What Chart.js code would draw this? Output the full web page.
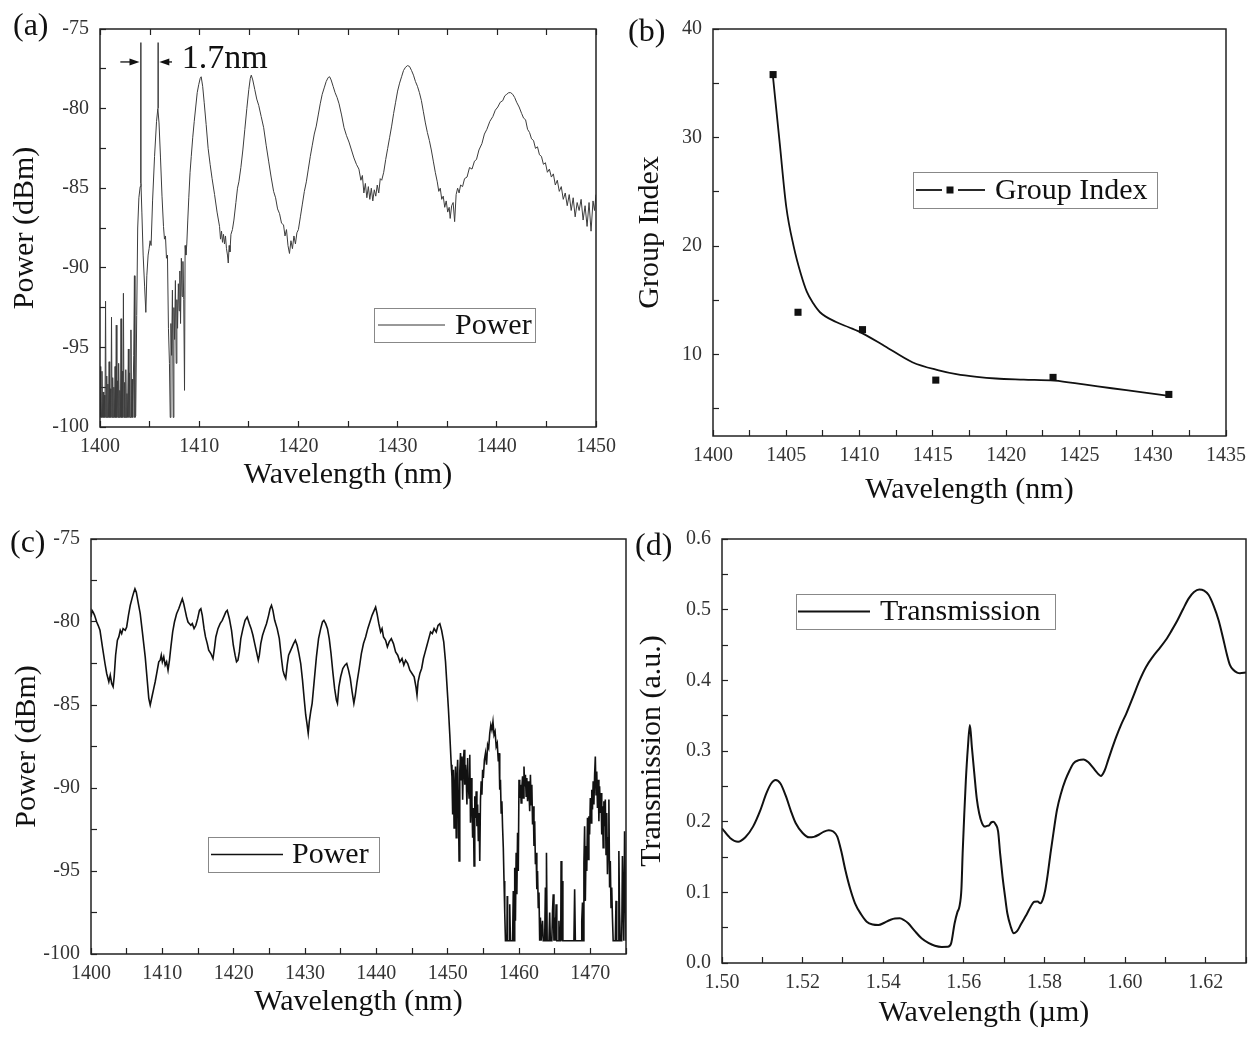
<!DOCTYPE html>
<html>
<head>
<meta charset="utf-8">
<title>Spectra</title>
<script src="https://cdn.jsdelivr.net/npm/chart.js@4.4.1/dist/chart.umd.min.js"></script>
<style>
  html, body { margin: 0; padding: 0; background: #fff; }
  #wrap { position: relative; width: 1260px; height: 1050px; overflow: hidden; }
  canvas { position: absolute; }
</style>
</head>
<body>
<div id="wrap">
  <canvas id="chartA" width="630" height="500" style="left:0;top:0"></canvas>
  <canvas id="chartB" width="640" height="510" style="left:620px;top:0"></canvas>
  <canvas id="chartC" width="640" height="540" style="left:0;top:510px"></canvas>
  <canvas id="chartD" width="630" height="540" style="left:630px;top:510px"></canvas>
</div>
<script>
// (a) measured transmission spectrum, [wavelength nm, power dBm]
const aSpectrum = [
  [1400.00,-96.2],[1400.05,-99.4],[1400.10,-97.0],[1400.15,-99.4],[1400.20,-96.5],[1400.26,-99.4],[1400.32,-97.8],[1400.38,-99.4],
  [1400.44,-98.0],[1400.50,-99.4],[1400.56,-92.1],[1400.62,-99.4],[1400.68,-96.8],[1400.74,-99.4],[1400.80,-97.3],[1400.86,-99.4],
  [1400.92,-95.9],[1400.98,-99.4],[1401.04,-97.6],[1401.10,-99.4],[1401.16,-93.1],[1401.22,-99.4],[1401.28,-96.9],[1401.34,-99.4],
  [1401.40,-97.5],[1401.46,-99.4],[1401.52,-96.2],[1401.58,-99.4],[1401.64,-93.6],[1401.70,-99.4],[1401.76,-97.1],[1401.82,-99.4],
  [1401.88,-96.0],[1401.94,-99.4],[1402.00,-97.7],[1402.06,-99.4],[1402.12,-93.2],[1402.18,-99.4],[1402.24,-96.5],[1402.30,-99.4],
  [1402.36,-91.6],[1402.42,-99.4],[1402.48,-97.2],[1402.54,-99.4],[1402.60,-96.4],[1402.66,-99.4],[1402.72,-97.9],[1402.78,-99.4],
  [1402.86,-95.1],[1402.92,-99.4],[1402.98,-96.6],[1403.04,-99.4],[1403.12,-93.9],[1403.18,-99.4],[1403.24,-97.0],[1403.30,-99.4],
  [1403.40,-95.5],[1403.47,-90.5],[1403.52,-99.4],[1403.60,-99.3],[1403.70,-93.0],[1403.80,-87.5],[1403.92,-85.6],[1404.05,-84.9],
  [1404.13,-84.7],[1404.22,-86.5],[1404.35,-89.2],[1404.50,-91.2],[1404.62,-92.8],[1404.72,-90.5],[1404.85,-89.2],[1404.95,-88.8],
  [1405.05,-88.3],[1405.15,-88.6],[1405.30,-85.8],[1405.50,-83.0],[1405.70,-80.8],[1405.83,-80.0],[1405.95,-80.9],[1406.10,-83.1],
  [1406.25,-85.5],[1406.40,-87.4],[1406.50,-88.2],[1406.60,-88.0],[1406.70,-89.4],[1406.80,-89.2],[1406.90,-93.8],[1407.00,-96.0],
  [1407.08,-99.4],[1407.15,-93.5],[1407.22,-95.5],[1407.30,-91.4],[1407.38,-99.4],[1407.45,-92.5],[1407.52,-94.5],[1407.60,-90.8],
  [1407.68,-96.0],[1407.75,-92.0],[1407.82,-93.8],[1407.90,-91.0],[1407.98,-92.7],[1408.05,-90.2],[1408.12,-93.5],[1408.20,-89.4],
  [1408.28,-91.8],[1408.36,-89.6],[1408.44,-92.0],[1408.52,-97.7],[1408.58,-88.6],[1408.66,-89.2],[1408.75,-88.5],[1408.85,-87.0],
  [1408.95,-85.6],[1409.08,-84.0],[1409.20,-83.0],[1409.35,-81.8],[1409.50,-80.8],[1409.65,-79.9],[1409.80,-79.0],[1409.95,-78.5],
  [1410.10,-78.1],[1410.20,-78.0],[1410.35,-78.6],[1410.50,-79.6],[1410.70,-81.0],[1410.90,-82.5],[1411.10,-83.5],[1411.30,-84.4],
  [1411.55,-85.4],[1411.80,-86.5],[1412.05,-87.4],[1412.15,-88.2],[1412.25,-87.7],[1412.35,-88.4],[1412.45,-87.9],[1412.55,-88.5],
  [1412.65,-88.0],[1412.75,-88.8],[1412.85,-89.2],[1412.93,-89.7],[1413.02,-88.6],[1413.10,-89.0],[1413.20,-87.9],[1413.35,-87.6],
  [1413.50,-87.0],[1413.70,-85.9],[1413.86,-85.0],[1414.00,-84.6],[1414.20,-83.7],[1414.40,-82.6],[1414.60,-81.3],[1414.80,-80.0],
  [1415.00,-78.8],[1415.15,-78.1],[1415.25,-77.9],[1415.40,-78.2],[1415.60,-78.8],[1415.80,-79.4],[1416.00,-79.8],[1416.25,-80.5],
  [1416.50,-81.2],[1416.75,-82.3],[1417.00,-83.3],[1417.25,-84.3],[1417.50,-85.2],[1417.70,-85.6],[1417.90,-86.3],[1418.10,-86.6],
  [1418.30,-87.2],[1418.50,-87.3],[1418.65,-88.0],[1418.80,-87.6],[1418.95,-88.6],[1419.10,-89.1],[1419.25,-88.3],[1419.40,-88.8],
  [1419.55,-88.0],[1419.70,-88.5],[1419.85,-87.8],[1420.00,-87.6],[1420.20,-86.8],[1420.40,-86.0],[1420.60,-85.2],[1420.80,-84.6],
  [1421.00,-83.8],[1421.20,-83.0],[1421.40,-82.3],[1421.60,-81.6],[1421.80,-81.1],[1422.00,-80.4],[1422.20,-79.7],[1422.40,-79.1],
  [1422.60,-78.7],[1422.80,-78.3],[1423.00,-78.05],[1423.15,-78.0],[1423.30,-78.2],[1423.50,-78.6],[1423.70,-79.0],[1423.90,-79.3],
  [1424.10,-79.7],[1424.35,-80.4],[1424.60,-81.2],[1424.85,-81.7],[1425.10,-82.1],[1425.35,-82.6],[1425.60,-83.1],[1425.85,-83.5],
  [1426.10,-83.8],[1426.30,-84.5],[1426.45,-84.2],[1426.60,-85.3],[1426.75,-84.7],[1426.90,-85.6],[1427.05,-84.9],[1427.20,-85.7],
  [1427.35,-85.0],[1427.50,-85.8],[1427.65,-85.1],[1427.80,-85.5],[1427.95,-84.8],[1428.10,-85.3],[1428.25,-84.4],[1428.40,-84.5],
  [1428.60,-84.0],[1428.80,-83.2],[1429.00,-82.5],[1429.20,-81.8],[1429.40,-81.1],[1429.60,-80.3],[1429.80,-79.6],[1430.00,-78.9],
  [1430.20,-78.4],[1430.40,-78.0],[1430.60,-77.6],[1430.80,-77.4],[1431.00,-77.3],[1431.20,-77.35],[1431.40,-77.6],[1431.60,-77.9],
  [1431.80,-78.3],[1432.00,-78.6],[1432.20,-79.0],[1432.40,-79.5],[1432.60,-80.2],[1432.80,-80.9],[1433.00,-81.5],[1433.20,-82.0],
  [1433.40,-82.6],[1433.60,-83.3],[1433.80,-84.0],[1434.00,-84.6],[1434.15,-85.2],[1434.30,-85.0],[1434.45,-85.7],[1434.60,-85.5],
  [1434.75,-86.2],[1434.90,-85.8],[1435.05,-86.5],[1435.20,-86.2],[1435.30,-86.9],[1435.45,-86.1],[1435.60,-85.9],[1435.75,-87.1],
  [1435.90,-85.4],[1436.05,-85.0],[1436.20,-85.3],[1436.35,-84.8],[1436.55,-84.9],[1436.75,-84.4],[1437.00,-84.3],[1437.25,-83.7],
  [1437.50,-83.8],[1437.75,-83.3],[1437.95,-83.2],[1438.20,-82.6],[1438.50,-82.2],[1438.75,-81.6],[1439.00,-81.3],[1439.30,-80.8],
  [1439.60,-80.5],[1439.85,-80.1],[1440.10,-79.9],[1440.35,-79.6],[1440.60,-79.5],[1440.80,-79.2],[1441.00,-79.1],[1441.20,-79.0],
  [1441.40,-79.0],[1441.60,-79.1],[1441.80,-79.3],[1442.00,-79.6],[1442.25,-79.9],[1442.50,-80.3],[1442.70,-80.6],[1442.90,-80.7],
  [1443.10,-81.3],[1443.30,-81.5],[1443.50,-81.9],[1443.70,-82.0],[1443.90,-82.5],[1444.10,-82.4],[1444.30,-82.9],[1444.50,-83.0],
  [1444.70,-83.5],[1444.90,-83.4],[1445.10,-84.0],[1445.30,-83.8],[1445.50,-84.3],[1445.70,-84.1],[1445.90,-84.8],[1446.10,-84.5],
  [1446.30,-85.2],[1446.50,-84.9],[1446.70,-85.7],[1446.90,-85.3],[1447.10,-86.1],[1447.30,-85.4],[1447.50,-86.4],[1447.70,-85.6],
  [1447.90,-86.8],[1448.10,-85.9],[1448.30,-86.4],[1448.50,-85.7],[1448.70,-87.0],[1448.90,-86.1],[1449.10,-87.4],[1449.30,-85.9],
  [1449.50,-87.7],[1449.70,-85.8],[1449.85,-86.4],[1450.00,-85.4]
];
// (a) the two resonance markers: [wavelength, peak power, top]
const aMarkLines = [[1404.12, -84.7, -75.85], [1405.86, -80.0, -75.85]];
const aGapArrowLeft = [1402.05, 1403.98];
const aGapArrowRight = [1407.26, 1405.98];
const aGapArrowY = -77.07;
const aGapText = "1.7nm";
const aGapTextPos = [1408.25, -76.9];

// (b) group index
const bWl = [1404.1, 1405.8, 1410.2, 1415.2, 1423.2, 1431.1];
const bIndex = [35.8, 13.9, 12.3, 7.65, 7.9, 6.33];
const bFitWl = [1404.1, 1404.55, 1405.0, 1405.5, 1406.0, 1406.4, 1406.85, 1407.3, 1408.4, 1409.3, 1410.2, 1411.7,
  1413.6, 1415.4, 1416.6, 1418.0, 1419.3, 1421.2, 1423.3, 1425.3, 1427.2, 1429.2, 1431.1];
const bFitIndex = [35.5, 29.5, 23.6, 20.0, 17.4, 15.8, 14.7, 13.9, 13.0, 12.5, 11.96, 10.8,
  9.3, 8.55, 8.2, 7.95, 7.8, 7.7, 7.6, 7.25, 6.9, 6.55, 6.2];

// (c) measured spectrum, [wavelength nm, power dBm]
const cSpectrum = [
  [1400.0,-79.7],[1400.15,-79.3],[1400.3,-79.4],[1400.5,-79.6],[1400.8,-80.0],[1401.0,-80.2],[1401.26,-80.5],[1401.6,-81.5],
  [1401.96,-82.5],[1402.2,-83.1],[1402.5,-83.6],[1402.7,-83.2],[1402.9,-83.7],[1403.1,-83.9],[1403.25,-83.3],[1403.45,-82.0],
  [1403.7,-81.1],[1403.9,-80.9],[1404.1,-80.5],[1404.3,-80.7],[1404.5,-80.4],[1404.8,-80.5],[1405.0,-80.3],[1405.25,-79.6],
  [1405.5,-79.0],[1405.8,-78.5],[1406.0,-78.2],[1406.16,-78.0],[1406.35,-78.2],[1406.6,-78.8],[1406.9,-79.5],[1407.2,-80.6],
  [1407.6,-82.1],[1407.9,-83.6],[1408.1,-84.6],[1408.3,-85.0],[1408.45,-84.7],[1408.6,-84.4],[1408.8,-84.0],[1409.0,-83.6],
  [1409.25,-83.0],[1409.5,-82.4],[1409.7,-82.3],[1409.85,-82.0],[1410.0,-82.4],[1410.2,-82.1],[1410.4,-82.6],[1410.6,-82.4],
  [1410.8,-82.9],[1411.0,-82.3],[1411.2,-81.5],[1411.45,-80.6],[1411.7,-80.0],[1412.0,-79.5],[1412.3,-79.2],[1412.55,-78.9],
  [1412.8,-78.6],[1413.0,-78.9],[1413.2,-79.3],[1413.4,-79.7],[1413.6,-80.0],[1413.8,-80.1],[1414.0,-80.2],[1414.2,-80.1],
  [1414.45,-80.4],[1414.7,-80.2],[1414.95,-79.8],[1415.2,-79.3],[1415.4,-79.2],[1415.6,-79.6],[1415.85,-80.4],[1416.05,-80.9],
  [1416.3,-81.3],[1416.5,-81.7],[1416.8,-81.9],[1417.1,-82.2],[1417.3,-81.6],[1417.5,-80.9],[1417.8,-80.4],[1418.1,-80.1],
  [1418.4,-79.9],[1418.7,-79.6],[1418.9,-79.4],[1419.1,-79.3],[1419.4,-79.8],[1419.7,-80.5],[1419.95,-81.4],[1420.2,-82.0],
  [1420.4,-82.4],[1420.6,-82.3],[1420.8,-81.8],[1421.0,-81.0],[1421.3,-80.4],[1421.6,-79.9],[1421.9,-79.7],[1422.2,-80.1],
  [1422.45,-80.4],[1422.7,-80.8],[1422.95,-81.3],[1423.2,-81.8],[1423.45,-82.3],[1423.6,-82.0],[1423.8,-81.3],[1424.05,-80.8],
  [1424.35,-80.4],[1424.6,-80.1],[1424.9,-79.6],[1425.1,-79.2],[1425.3,-79.0],[1425.5,-79.3],[1425.75,-79.9],[1426.1,-80.4],
  [1426.4,-81.0],[1426.7,-82.2],[1426.9,-82.9],[1427.1,-83.2],[1427.3,-83.4],[1427.5,-82.6],[1427.7,-82.0],[1427.9,-81.8],
  [1428.1,-81.6],[1428.4,-81.3],[1428.65,-81.1],[1428.9,-81.4],[1429.15,-81.9],[1429.4,-82.5],[1429.65,-83.5],[1429.9,-84.7],
  [1430.1,-85.6],[1430.3,-86.2],[1430.45,-86.7],[1430.6,-86.0],[1430.8,-85.4],[1431.0,-84.9],[1431.3,-83.5],[1431.6,-82.1],
  [1431.9,-81.0],[1432.2,-80.4],[1432.45,-80.0],[1432.65,-79.9],[1432.9,-80.1],[1433.15,-80.4],[1433.4,-81.0],[1433.65,-81.9],
  [1433.9,-83.0],[1434.15,-84.0],[1434.4,-84.7],[1434.55,-84.9],[1434.75,-83.9],[1435.0,-83.3],[1435.3,-82.8],[1435.6,-82.6],
  [1435.85,-82.5],[1436.1,-82.9],[1436.35,-83.4],[1436.6,-84.2],[1436.85,-84.9],[1437.05,-84.4],[1437.3,-83.6],[1437.6,-82.8],
  [1437.9,-81.9],[1438.2,-81.3],[1438.5,-80.9],[1438.8,-80.4],[1439.1,-80.0],[1439.4,-79.6],[1439.7,-79.3],[1439.9,-79.1],
  [1440.1,-79.5],[1440.35,-80.1],[1440.6,-80.6],[1440.8,-80.4],[1441.0,-80.9],[1441.3,-81.1],[1441.55,-81.5],[1441.8,-81.2],
  [1442.1,-81.0],[1442.4,-81.3],[1442.7,-81.8],[1443.0,-82.0],[1443.3,-82.4],[1443.6,-82.2],[1443.85,-82.6],[1444.1,-82.3],
  [1444.4,-82.5],[1444.7,-82.9],[1445.0,-83.1],[1445.3,-83.3],[1445.55,-83.9],[1445.7,-84.4],[1445.85,-83.6],[1446.1,-83.1],
  [1446.35,-82.8],[1446.6,-82.2],[1446.85,-81.8],[1447.1,-81.4],[1447.35,-81.0],[1447.6,-80.6],[1447.85,-80.7],[1448.1,-80.4],
  [1448.4,-80.6],[1448.65,-80.2],[1448.9,-80.1],[1449.15,-80.5],[1449.45,-81.2],[1449.7,-82.4],[1449.9,-83.8],[1450.1,-85.2],
  [1450.3,-86.8],[1450.5,-88.6],[1450.6,-89.3],[1450.7,-91.6],[1450.8,-88.9],[1450.9,-92.4],[1451.0,-90.2],[1451.1,-88.7],
  [1451.2,-93.0],[1451.3,-89.6],[1451.4,-88.3],[1451.5,-90.8],[1451.6,-94.4],[1451.7,-89.0],[1451.8,-87.9],[1451.9,-89.5],
  [1452.0,-88.1],[1452.1,-90.7],[1452.2,-88.5],[1452.3,-87.7],[1452.4,-89.8],[1452.5,-88.6],[1452.6,-89.3],[1452.7,-91.0],
  [1452.8,-88.2],[1452.9,-89.8],[1453.0,-90.6],[1453.1,-88.0],[1453.2,-92.1],[1453.3,-89.4],[1453.4,-90.8],[1453.5,-93.0],
  [1453.6,-91.2],[1453.7,-94.7],[1453.8,-90.5],[1453.9,-91.8],[1454.0,-90.2],[1454.1,-92.3],[1454.2,-91.0],[1454.3,-93.2],
  [1454.4,-91.5],[1454.5,-94.4],[1454.6,-90.7],[1454.7,-89.6],[1454.8,-90.4],[1454.9,-88.9],[1455.0,-89.4],[1455.15,-88.3],
  [1455.3,-87.9],[1455.45,-88.6],[1455.6,-87.4],[1455.75,-87.6],[1455.9,-86.7],[1456.05,-86.2],[1456.2,-86.5],[1456.35,-86.0],
  [1456.5,-86.8],[1456.65,-86.6],[1456.8,-87.5],[1456.95,-87.3],[1457.1,-88.4],[1457.2,-87.9],[1457.3,-90.1],[1457.4,-89.5],
  [1457.5,-91.5],[1457.6,-90.8],[1457.7,-92.4],[1457.8,-93.6],[1457.9,-95.6],[1458.0,-97.5],[1458.1,-99.2],[1458.3,-99.2],
  [1458.35,-96.5],[1458.4,-99.2],[1458.6,-99.2],[1458.7,-97.0],[1458.8,-99.2],[1459.1,-99.2],[1459.2,-96.2],[1459.3,-99.2],
  [1459.4,-94.8],[1459.5,-98.0],[1459.6,-93.9],[1459.7,-96.4],[1459.8,-92.7],[1459.9,-95.0],[1460.0,-89.5],[1460.1,-90.6],
  [1460.2,-89.8],[1460.3,-90.9],[1460.4,-90.0],[1460.5,-89.3],[1460.6,-90.6],[1460.7,-88.7],[1460.8,-89.9],[1460.9,-89.2],
  [1461.0,-90.5],[1461.1,-89.4],[1461.2,-90.8],[1461.3,-89.6],[1461.4,-90.2],[1461.5,-91.4],[1461.6,-89.2],[1461.7,-91.0],
  [1461.8,-89.8],[1461.9,-92.2],[1462.0,-91.1],[1462.1,-93.5],[1462.2,-92.0],[1462.3,-94.6],[1462.4,-93.9],[1462.5,-96.1],
  [1462.6,-95.0],[1462.7,-97.2],[1462.8,-96.3],[1462.9,-99.2],[1463.0,-97.8],[1463.1,-99.2],[1463.3,-98.0],[1463.4,-99.2],
  [1463.6,-99.2],[1463.7,-96.0],[1463.8,-99.2],[1463.85,-93.9],[1463.95,-99.2],[1464.2,-99.2],[1464.3,-97.5],[1464.4,-99.2],
  [1464.6,-99.2],[1464.7,-97.4],[1464.8,-96.4],[1464.9,-99.2],[1465.0,-97.8],[1465.1,-99.2],[1465.2,-97.0],[1465.3,-99.2],
  [1465.5,-99.2],[1465.6,-98.0],[1465.7,-99.2],[1465.85,-99.2],[1465.9,-94.4],[1466.0,-99.2],[1466.05,-95.6],[1466.15,-99.2],
  [1467.7,-99.2],[1467.8,-96.1],[1467.9,-99.2],[1468.7,-99.2],[1468.8,-98.0],[1468.9,-96.9],[1469.0,-99.2],[1469.1,-94.5],
  [1469.2,-92.3],[1469.3,-96.8],[1469.4,-93.5],[1469.5,-95.0],[1469.6,-91.8],[1469.7,-94.3],[1469.8,-91.7],[1469.9,-92.8],
  [1470.0,-90.6],[1470.1,-92.1],[1470.2,-90.1],[1470.3,-91.3],[1470.4,-89.6],[1470.5,-91.0],[1470.6,-89.2],[1470.7,-88.1],
  [1470.8,-90.4],[1470.9,-89.0],[1471.0,-91.2],[1471.1,-89.5],[1471.2,-92.0],[1471.3,-89.9],[1471.4,-91.5],[1471.5,-90.3],
  [1471.6,-92.8],[1471.7,-91.1],[1471.8,-93.6],[1471.9,-90.8],[1472.0,-92.3],[1472.1,-90.7],[1472.2,-94.0],[1472.3,-91.5],
  [1472.4,-95.2],[1472.5,-93.0],[1472.6,-90.7],[1472.7,-96.0],[1472.8,-94.4],[1472.9,-97.2],[1473.0,-96.0],[1473.1,-97.8],
  [1473.2,-99.2],[1473.5,-99.2],[1473.6,-96.8],[1473.7,-99.2],[1473.9,-99.2],[1474.0,-93.8],[1474.1,-97.5],[1474.2,-99.2],
  [1474.4,-99.2],[1474.5,-94.1],[1474.6,-96.9],[1474.7,-99.2],[1474.8,-92.6],[1474.9,-95.5],[1475.0,-99.2]
];

// (d) simulated transmission, [wavelength um, transmission]
const dTransmission = [
  [1.5000,0.1906],[1.5020,0.1770],[1.5040,0.1717],[1.5058,0.1780],[1.5077,0.1930],[1.5095,0.2160],[1.5110,0.2400],[1.5122,0.2540],
  [1.5133,0.2590],[1.5145,0.2540],[1.5159,0.2353],[1.5171,0.2150],[1.5183,0.1977],[1.5200,0.1840],[1.5216,0.1778],[1.5228,0.1785],
  [1.5240,0.1815],[1.5253,0.1860],[1.5265,0.1880],[1.5276,0.1860],[1.5286,0.1790],[1.5296,0.1580],[1.5306,0.1316],[1.5318,0.1050],
  [1.5330,0.0845],[1.5345,0.0690],[1.5359,0.0585],[1.5374,0.0545],[1.5388,0.0538],[1.5403,0.0570],[1.5417,0.0609],[1.5429,0.0630],
  [1.5441,0.0632],[1.5452,0.0605],[1.5462,0.0562],[1.5478,0.0455],[1.5495,0.0350],[1.5512,0.0285],[1.5528,0.0245],[1.5545,0.0228],
  [1.5560,0.0230],[1.5568,0.0270],[1.5577,0.0560],[1.5584,0.0720],[1.5589,0.0797],[1.5594,0.1050],[1.5597,0.1550],[1.5601,0.2100],
  [1.5605,0.2590],[1.5610,0.3050],[1.5615,0.3368],[1.5620,0.3050],[1.5626,0.2680],[1.5632,0.2330],[1.5638,0.2120],[1.5645,0.1980],
  [1.5652,0.1930],[1.5658,0.1940],[1.5663,0.1950],[1.5668,0.1990],[1.5673,0.2000],[1.5679,0.1960],[1.5685,0.1863],[1.5690,0.1550],
  [1.5696,0.1220],[1.5702,0.0950],[1.5708,0.0700],[1.5716,0.0520],[1.5724,0.0420],[1.5732,0.0450],[1.5741,0.0540],[1.5750,0.0630],
  [1.5757,0.0700],[1.5766,0.0800],[1.5775,0.0868],[1.5783,0.0870],[1.5790,0.0845],[1.5796,0.0900],[1.5802,0.1033],[1.5808,0.1250],
  [1.5815,0.1550],[1.5823,0.1870],[1.5831,0.2165],[1.5841,0.2400],[1.5852,0.2590],[1.5862,0.2720],[1.5872,0.2826],[1.5885,0.2870],
  [1.5897,0.2880],[1.5909,0.2840],[1.5921,0.2760],[1.5931,0.2690],[1.5940,0.2646],[1.5949,0.2720],[1.5958,0.2870],[1.5968,0.3040],
  [1.5978,0.3200],[1.5990,0.3370],[1.6003,0.3530],[1.6020,0.3770],[1.6036,0.4000],[1.6052,0.4190],[1.6069,0.4335],[1.6085,0.4450],
  [1.6101,0.4570],[1.6115,0.4700],[1.6130,0.4850],[1.6144,0.5010],[1.6158,0.5160],[1.6171,0.5250],[1.6184,0.5287],[1.6196,0.5270],
  [1.6207,0.5210],[1.6220,0.5050],[1.6232,0.4850],[1.6243,0.4600],[1.6252,0.4380],[1.6260,0.4220],[1.6269,0.4146],[1.6278,0.4110],
  [1.6285,0.4100],[1.6300,0.4110]
];

// tick values (major get labels, minor are bare marks)
const aXMajor = [1400, 1410, 1420, 1430, 1440, 1450];
const aXMinor = [1405, 1415, 1425, 1435, 1445];
const aYMajor = [-100, -95, -90, -85, -80, -75];
const aYMinor = [-97.5, -92.5, -87.5, -82.5, -77.5];
const bXMajor = [1400, 1405, 1410, 1415, 1420, 1425, 1430, 1435];
const bXMinor = [1402.5, 1407.5, 1412.5, 1417.5, 1422.5, 1427.5, 1432.5];
const bYMajor = [10, 20, 30, 40];
const bYMinor = [5, 15, 25, 35];
const cXMajor = [1400, 1410, 1420, 1430, 1440, 1450, 1460, 1470];
const cXMinor = [1405, 1415, 1425, 1435, 1445, 1455, 1465, 1475];
const cYMajor = [-100, -95, -90, -85, -80, -75];
const cYMinor = [-97.5, -92.5, -87.5, -82.5, -77.5];
const dXMajor = [1.50, 1.52, 1.54, 1.56, 1.58, 1.60, 1.62];
const dXMinor = [1.51, 1.53, 1.55, 1.57, 1.59, 1.61, 1.63];
const dYMajor = [0.0, 0.1, 0.2, 0.3, 0.4, 0.5, 0.6];
const dYMinor = [0.05, 0.15, 0.25, 0.35, 0.45, 0.55];

const SERIF = "'Liberation Serif', 'Times New Roman', serif";
Chart.defaults.font.family = SERIF;
Chart.defaults.color = "#222";

const toXY = (pairs) => pairs.map((p) => ({ x: p[0], y: p[1] }));

function tickAxis(major, minor, fmt, fitSize, title, titlePad, extra) {
  const majorSet = new Set(major);
  const horizontal = extra.position === "bottom";
  return Object.assign({
    type: "linear",
    afterBuildTicks: (scale) => {
      scale.ticks = major.concat(minor).sort((p, q) => p - q).map((v) => ({ value: v }));
    },
    afterFit: (scale) => {
      if (horizontal) scale.height = fitSize; else scale.width = fitSize;
    },
    ticks: {
      callback: (v) => (majorSet.has(v) ? fmt(v) : ""),
      font: { size: 20 },
      color: "#333",
      autoSkip: false,
      maxRotation: 0,
      padding: horizontal ? 14 : 17,
    },
    grid: { display: true, drawOnChartArea: false, drawTicks: true, tickLength: -6, tickColor: "#222", tickWidth: 1.2 },
    border: { display: false },
    title: { display: true, text: title, font: { size: 30 }, color: "#111", padding: titlePad },
  }, extra);
}

// frame, panel letter and boxed legend
const decor = {
  id: "decor",
  afterDraw(chart, args, o) {
    const { ctx, chartArea: a } = chart;
    ctx.save();
    ctx.strokeStyle = "#222";
    ctx.lineWidth = 1.5;
    ctx.strokeRect(a.left, a.top, a.right - a.left, a.bottom - a.top);
    if (o.topTicks) {
      const xs = chart.scales.x;
      ctx.lineWidth = 1.2;
      xs.ticks.forEach((t) => {
        const px = Math.round(xs.getPixelForValue(t.value)) + 0.5;
        ctx.beginPath();
        ctx.moveTo(px, a.top);
        ctx.lineTo(px, a.top + 6);
        ctx.stroke();
      });
    }
    ctx.fillStyle = "#111";
    ctx.textBaseline = "middle";
    ctx.textAlign = "left";
    ctx.font = "32px " + SERIF;
    ctx.fillText(o.label, o.labelPos[0], o.labelPos[1]);

    const lg = o.legend;
    ctx.strokeStyle = "#888";
    ctx.lineWidth = 1;
    ctx.strokeRect(lg.box[0] + 0.5, lg.box[1] + 0.5, lg.box[2], lg.box[3]);
    const ly = lg.box[1] + lg.box[3] / 2;
    ctx.strokeStyle = lg.color;
    ctx.lineWidth = lg.width;
    lg.segments.forEach((s) => {
      ctx.beginPath();
      ctx.moveTo(s[0], ly);
      ctx.lineTo(s[1], ly);
      ctx.stroke();
    });
    if (lg.marker) {
      ctx.fillStyle = "#111";
      ctx.fillRect(lg.marker - 3.5, ly - 3.5, 7, 7);
    }
    ctx.fillStyle = "#111";
    ctx.font = "30px " + SERIF;
    ctx.fillText(lg.text, lg.textX, ly + 1);
    ctx.restore();
  },
};

// arrows and "1.7nm" note of panel (a)
const gapNote = {
  id: "gapNote",
  afterDraw(chart) {
    const { ctx, scales: { x, y } } = chart;
    const yy = y.getPixelForValue(aGapArrowY);
    ctx.save();
    ctx.strokeStyle = "#111";
    ctx.fillStyle = "#111";
    ctx.lineWidth = 1.3;
    [aGapArrowLeft, aGapArrowRight].forEach((ar) => {
      const x0 = x.getPixelForValue(ar[0]);
      const x1 = x.getPixelForValue(ar[1]);
      const dir = Math.sign(x1 - x0);
      ctx.beginPath();
      ctx.moveTo(x0, yy);
      ctx.lineTo(x1 - dir * 6, yy);
      ctx.stroke();
      ctx.beginPath();
      ctx.moveTo(x1, yy);
      ctx.lineTo(x1 - dir * 10, yy - 3.5);
      ctx.lineTo(x1 - dir * 10, yy + 3.5);
      ctx.closePath();
      ctx.fill();
    });
    ctx.font = "34px " + SERIF;
    ctx.textBaseline = "middle";
    ctx.fillText(aGapText, x.getPixelForValue(aGapTextPos[0]), y.getPixelForValue(aGapTextPos[1]));
    ctx.restore();
  },
};

const baseOptions = (pad, scales, decorOpts) => ({
  responsive: false,
  animation: false,
  events: [],
  layout: { padding: { top: pad[0], right: pad[1], bottom: 0, left: 0 } },
  elements: { point: { radius: 0 } },
  scales: scales,
  plugins: { legend: { display: false }, tooltip: { enabled: false }, decor: decorOpts },
});

const fmtInt = (v) => String(v);

function loadPanelA(ctx) {
  const datasets = [{
    data: toXY(aSpectrum),
    borderColor: "#3c3c3c",
    borderWidth: 1,
    tension: 0,
  }];
  aMarkLines.forEach((m) => {
    datasets.push({ data: [{ x: m[0], y: m[1] }, { x: m[0], y: m[2] }], borderColor: "#222", borderWidth: 1.3 });
  });
  new Chart(ctx, {
    type: "line",
    data: { datasets },
    options: baseOptions([16, 25], {
      x: tickAxis(aXMajor, aXMinor, fmtInt, 73, "Wavelength (nm)", { bottom: 7 }, { position: "bottom", min: 1400, max: 1450 }),
      y: tickAxis(aYMajor, aYMinor, fmtInt, 100, "Power (dBm)", { top: 7 }, { position: "left", min: -100, max: -75 }),
    }, {
      label: "(a)", labelPos: [13, 27], topTicks: true,
      legend: { box: [374, 308, 161, 34], segments: [[378, 445]], color: "#333", width: 1, text: "Power", textX: 455 },
    }),
    plugins: [decor, gapNote],
  });
}

function loadPanelB(ctx) {
  new Chart(ctx, {
    type: "line",
    data: {
      datasets: [
        {
          data: bFitWl.map((w, i) => ({ x: w, y: bFitIndex[i] })),
          borderColor: "#111",
          borderWidth: 1.8,
          cubicInterpolationMode: "monotone",
        },
        {
          data: bWl.map((w, i) => ({ x: w, y: bIndex[i] })),
          showLine: false,
          pointStyle: "rect",
          pointRadius: 5,
          backgroundColor: "#111",
          borderColor: "#111",
          borderWidth: 0,
        },
      ],
    },
    options: baseOptions([16, 32], {
      x: tickAxis(bXMajor, bXMinor, fmtInt, 74, "Wavelength (nm)", { bottom: 2 }, { position: "bottom", min: 1400, max: 1435 }),
      y: tickAxis(bYMajor, bYMinor, fmtInt, 93, "Group Index", { top: 12 }, { position: "left", min: 2.5, max: 40 }),
    }, {
      label: "(b)", labelPos: [8, 33],
      legend: { box: [293, 172, 244, 36], segments: [[296, 322], [338, 365]], color: "#111", width: 1.8, marker: 330, text: "Group Index", textX: 375 },
    }),
    plugins: [decor],
  });
}

function loadPanelC(ctx) {
  new Chart(ctx, {
    type: "line",
    data: {
      datasets: [{ data: toXY(cSpectrum), borderColor: "#111", borderWidth: 1.6, tension: 0 }],
    },
    options: baseOptions([28, 13], {
      x: tickAxis(cXMajor, cXMinor, fmtInt, 96, "Wavelength (nm)", { bottom: 30 }, { position: "bottom", min: 1400, max: 1475 }),
      y: tickAxis(cYMajor, cYMinor, fmtInt, 91, "Power (dBm)", { top: 9 }, { position: "left", min: -100, max: -75 }),
    }, {
      label: "(c)", labelPos: [10, 34],
      legend: { box: [208, 327, 171, 35], segments: [[211, 283]], color: "#111", width: 1.3, text: "Power", textX: 292 },
    }),
    plugins: [decor],
  });
}

function loadPanelD(ctx) {
  new Chart(ctx, {
    type: "line",
    data: {
      datasets: [{
        data: toXY(dTransmission),
        borderColor: "#111",
        borderWidth: 2,
        cubicInterpolationMode: "monotone",
      }],
    },
    options: baseOptions([29, 9], {
      x: tickAxis(dXMajor, dXMinor, (v) => v.toFixed(2), 87, "Wavelength (\u00b5m)", { bottom: 19 }, { position: "bottom", min: 1.5, max: 1.63 }),
      y: tickAxis(dYMajor, dYMinor, (v) => v.toFixed(1), 92, "Transmission (a.u.)", { top: 4 }, { position: "left", min: 0, max: 0.6 }),
    }, {
      label: "(d)", labelPos: [5, 37],
      legend: { box: [166, 84, 259, 35], segments: [[168, 240]], color: "#111", width: 1.8, text: "Transmission", textX: 250 },
    }),
    plugins: [decor],
  });
}

loadPanelA(document.getElementById("chartA"));
loadPanelB(document.getElementById("chartB"));
loadPanelC(document.getElementById("chartC"));
loadPanelD(document.getElementById("chartD"));
</script>
</body>
</html>
